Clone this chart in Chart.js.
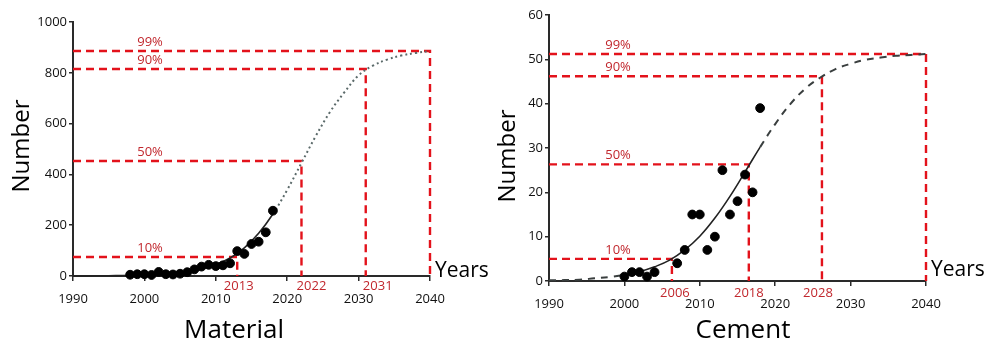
<!DOCTYPE html>
<html>
<head>
<meta charset="utf-8">
<script src="https://cdn.jsdelivr.net/npm/chart.js@4.4.0/dist/chart.umd.min.js"></script>
<style>
  body { margin: 0; background: #fff; }
  #wrap { position: relative; width: 1004px; height: 346px; }
  canvas { position: absolute; top: 0; }
</style>
</head>
<body>
<div id="wrap">
  <canvas id="material" width="500" height="346" style="left:0"></canvas>
  <canvas id="cement" width="514" height="346" style="left:490px"></canvas>
</div>
<script>
// ---- Material ----
const materialYears = [1998, 1999, 2000, 2001, 2002, 2003, 2004, 2005, 2006, 2007, 2008, 2009, 2010, 2011, 2012, 2013, 2014, 2015, 2016, 2017, 2018];
const materialCounts = [5, 7, 7, 4, 16, 7, 6, 9, 15, 26, 37, 44, 39, 42, 50, 98, 87, 126, 135, 172, 257];
const materialCurveYears = [1990, 1992, 1994, 1996, 1998, 2000, 2002, 2004, 2006, 2008, 2010, 2012, 2014, 2016, 2018, 2020, 2022, 2024, 2026, 2028, 2030, 2032, 2034, 2036, 2038, 2040];
const materialCurve = [0.4, 0.6, 1, 1.6, 2.5, 4.1, 6.7, 10.9, 17.6, 28, 45, 71, 111, 168, 244, 339, 445, 551, 646, 723, 790, 828, 852, 868, 878, 886];
const materialPctValues = [75, 453, 815, 886];
const materialPctYears = [2013, 2022, 2031, 2040];
const materialYearLabels = ['2013', '2022', '2031'];

// ---- Cement ----
const cementYears = [2000, 2001, 2002, 2003, 2004, 2007, 2008, 2009, 2010, 2011, 2012, 2013, 2014, 2015, 2016, 2017, 2018];
const cementCounts = [1, 2, 2, 1, 2, 4, 7, 15, 15, 7, 10, 25, 15, 18, 24, 20, 39];
const cementCurveYears = [1990, 1992, 1994, 1996, 1998, 2000, 2002, 2004, 2006, 2008, 2010, 2012, 2014, 2016, 2018, 2020, 2022, 2024, 2026, 2028, 2030, 2032, 2034, 2036, 2038, 2040];
const cementCurve = [0.15, 0.2, 0.3, 0.6, 0.9, 1.4, 2.1, 3.2, 4.7, 7, 10.1, 14.2, 19.1, 24.6, 30.2, 35.4, 39.9, 43.4, 45.9, 47.8, 49, 49.9, 50.4, 50.8, 51, 51.2];
const cementPctValues = [5, 26.3, 46.2, 51.2];
const cementPctYears = [2006.3, 2016.5, 2026.2, 2040];
const cementYearLabels = ['2006', '2018', '2028'];

const pctLabels = ['10%', '50%', '90%', '99%'];

const RED = '#e3121b';
const RED_TEXT = '#c1272d';
const AXIS = '#2a2a2a';
Chart.defaults.font.family = '"Open Sans", "Noto Sans", sans-serif';

const textPlugin = {
  id: 'texts',
  afterDraw(chart, args, o) {
    const { ctx, chartArea: a, scales: { x, y } } = chart;
    ctx.save();
    ctx.fillStyle = RED_TEXT;
    ctx.font = '13px "Open Sans"';
    ctx.textAlign = 'center';
    ctx.textBaseline = 'middle';
    pctLabels.forEach((t, i) => {
      ctx.fillText(t, a.left + o.pctDx, y.getPixelForValue(o.pctValues[i]) - 9);
    });
    o.yearLabels.forEach((t, i) => {
      ctx.fillText(t, x.getPixelForValue(o.pctYears[i]) + o.yearShift[i], a.bottom + o.yearDy);
    });

    ctx.fillStyle = '#000';
    ctx.textBaseline = 'alphabetic';
    ctx.textAlign = 'left';
    ctx.font = '21px "Open Sans"';
    ctx.fillText('Years', a.right + 5, a.bottom + o.yearsDy);

    ctx.textAlign = 'center';
    ctx.font = '500 26px "Open Sans"';
    ctx.fillText(o.title, o.titleX, 338);

    ctx.translate(o.numX, o.numY);
    ctx.rotate(-Math.PI / 2);
    ctx.textBaseline = 'middle';
    ctx.font = '500 24px "Open Sans"';
    ctx.fillText('Number', 0, 0);
    ctx.restore();
  }
};

function makeChart(id, s) {
  const refSets = s.pctValues.map((v, i) => ({
    data: [{ x: 1990, y: v }, { x: s.pctYears[i], y: v }, { x: s.pctYears[i], y: 0 }],
    borderColor: RED,
    borderWidth: 2.4,
    borderDash: [8, 5],
    pointRadius: 0,
    clip: 4,
    order: 3
  }));

  return new Chart(document.getElementById(id), {
    type: 'line',
    data: {
      datasets: [
        {
          data: s.years.map((yr, i) => ({ x: yr, y: s.counts[i] })),
          showLine: false,
          pointRadius: 4.4,
          pointBackgroundColor: '#000',
          pointBorderColor: '#000',
          clip: 6,
          order: 1
        },
        {
          data: s.curveYears.map((yr, i) => ({ x: yr, y: s.curve[i] })),
          borderColor: '#222',
          borderWidth: 1.6,
          pointRadius: 0,
          tension: 0.4,
          clip: 4,
          order: 2,
          segment: {
            borderDash: c => s.isSolid(c.p0.parsed.x) ? undefined : s.dash,
            borderColor: c => s.isSolid(c.p0.parsed.x) ? '#222' : s.dashColor,
            borderWidth: c => s.isSolid(c.p0.parsed.x) ? 1.6 : 2
          }
        },
        ...refSets
      ]
    },
    options: {
      responsive: false,
      animation: false,
      layout: { padding: { top: s.padTop, right: s.padRight, left: 0, bottom: 0 } },
      plugins: {
        legend: { display: false },
        tooltip: { enabled: false },
        texts: s.texts
      },
      scales: {
        x: {
          type: 'linear',
          min: 1990,
          max: 2040,
          afterFit: sc => { sc.height = s.xHeight; },
          ticks: { stepSize: 10, padding: 10, color: '#111', font: { size: 13 }, callback: v => String(v) },
          grid: { drawOnChartArea: false, tickLength: 5, color: AXIS, lineWidth: 1.5 },
          border: { color: AXIS, width: 2 }
        },
        y: {
          min: 0,
          max: s.yMax,
          afterFit: sc => { sc.width = s.yWidth; },
          ticks: { stepSize: s.yStep, padding: 2, color: '#111', font: { size: 13 }, callback: v => String(v) },
          grid: { drawOnChartArea: false, tickLength: 4, color: AXIS, lineWidth: 1.5 },
          border: { color: AXIS, width: 2 }
        }
      }
    },
    plugins: [textPlugin]
  });
}

makeChart('material', {
  years: materialYears, counts: materialCounts,
  curveYears: materialCurveYears, curve: materialCurve,
  pctValues: materialPctValues, pctYears: materialPctYears,
  isSolid: x => x < 2018,
  dash: [2, 3], dashColor: '#5b6a6a',
  yMax: 1000, yStep: 200,
  yWidth: 73, xHeight: 70, padTop: 22, padRight: 70,
  texts: {
    pctValues: materialPctValues, pctYears: materialPctYears, yearLabels: materialYearLabels,
    pctDx: 77, yearShift: [1.5, 10, 12], yearDy: 10, yearsDy: 1,
    title: 'Material', titleX: 234, numX: 22, numY: 146
  }
});

makeChart('cement', {
  years: cementYears, counts: cementCounts,
  curveYears: cementCurveYears, curve: cementCurve,
  pctValues: cementPctValues, pctYears: cementPctYears,
  isSolid: x => x >= 2002 && x < 2018,
  dash: [7, 6], dashColor: '#3a3f3f',
  yMax: 60, yStep: 10,
  yWidth: 59, xHeight: 65, padTop: 15, padRight: 78,
  texts: {
    pctValues: cementPctValues, pctYears: cementPctYears, yearLabels: cementYearLabels,
    pctDx: 69, yearShift: [3, 0, -4], yearDy: 12, yearsDy: -5,
    title: 'Cement', titleX: 253, numX: 18, numY: 156
  }
});
</script>
</body>
</html>
